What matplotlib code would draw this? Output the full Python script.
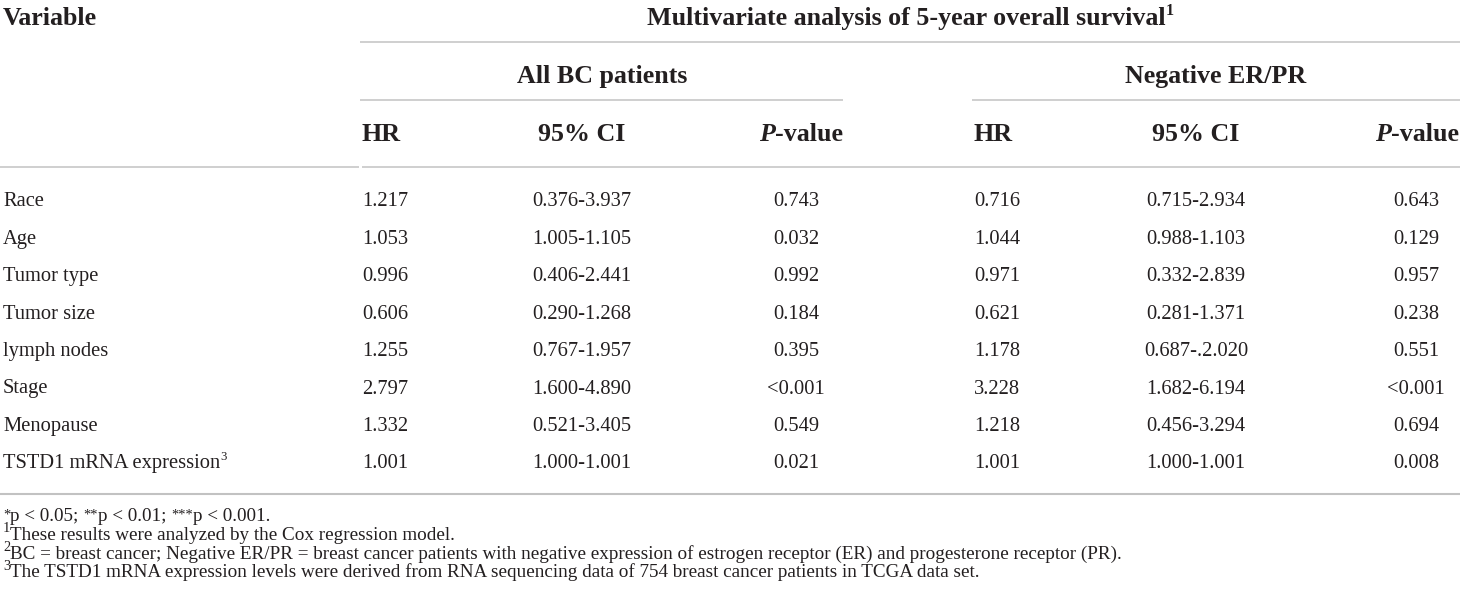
import matplotlib
matplotlib.use("Agg")
import matplotlib.pyplot as plt

# ---------------- data ----------------
variables = ["Race", "Age", "Tumor type", "Tumor size", "lymph nodes",
             "Stage", "Menopause", "TSTD1 mRNA expression"]
variable_sup = ["", "", "", "", "", "", "", "3"]
all_hr = ["1.217", "1.053", "0.996", "0.606", "1.255", "2.797", "1.332", "1.001"]
all_ci = ["0.376-3.937", "1.005-1.105", "0.406-2.441", "0.290-1.268",
          "0.767-1.957", "1.600-4.890", "0.521-3.405", "1.000-1.001"]
all_p = ["0.743", "0.032", "0.992", "0.184", "0.395", "<0.001", "0.549", "0.021"]
neg_hr = ["0.716", "1.044", "0.971", "0.621", "1.178", "3.228", "1.218", "1.001"]
neg_ci = ["0.715-2.934", "0.988-1.103", "0.332-2.839", "0.281-1.371",
          "0.687-.2.020", "1.682-6.194", "0.456-3.294", "1.000-1.001"]
neg_p = ["0.643", "0.129", "0.957", "0.238", "0.551", "<0.001", "0.694", "0.008"]

title = "Multivariate analysis of 5-year overall survival"
group_labels = ["All BC patients", "Negative ER/PR"]
col_headers = ["HR", "95% CI", "-value"]
# (text, rise) ; rise 0 = normal text, >0 = raised small text
footnotes = [
    [("*", 0.12), ("p < 0.05; ", 0), ("**", 0.12), ("p < 0.01; ", 0),
     ("***", 0.12), ("p < 0.001.", 0)],
    [("1", 0.40), ("These results were analyzed by the Cox regression model.", 0)],
    [("2", 0.40), ("BC = breast cancer; Negative ER/PR = breast cancer patients with negative "
                   "expression of estrogen receptor (ER) and progesterone receptor (PR).", 0)],
    [("3", 0.40), ("The TSTD1 mRNA expression levels were derived from RNA sequencing data of "
                   "754 breast cancer patients in TCGA data set.", 0)],
]

# ---------------- layout ----------------
W, H = 1460, 606
FONT = ["Liberation Serif", "DejaVu Serif"]
TXT = "#231f20"
LINE = "#c2c2c2"
BODY = 14.8
HEAD = 18.7
FOOT = 13.8

fig = plt.figure(figsize=(W / 100, H / 100), dpi=100)
ax = fig.add_axes([0, 0, 1, 1])
ax.set_xlim(0, W)
ax.set_ylim(H, 0)
ax.axis("off")
renderer = fig.canvas.get_renderer()


def runs(x, y, parts, ha="left", sup_scale=0.62):
    """parts: list of (text, size, weight, style, rise) ; rise in em (0 = normal)"""
    items = []
    total = 0.0
    for s, size, weight, style, rise in parts:
        fs = size * sup_scale if rise else size
        t = ax.text(0, 0, s, fontsize=fs, fontweight=weight, fontstyle=style,
                    family=FONT, color=TXT, va="baseline", ha="left")
        w = t.get_window_extent(renderer).width
        items.append((t, w, rise, size))
        total += w
    if ha == "left":
        cx = x
    elif ha == "center":
        cx = x - total / 2
    else:
        cx = x - total
    for t, w, rise, size in items:
        dy = -size * 100 / 72 * rise
        t.set_position((cx, y + dy))
        cx += w


def hline(x0, x1, y, lw=1.1):
    ax.plot([x0, x1], [y, y], color=LINE, lw=lw, solid_capstyle="butt")


# header lines
hline(360, W, 42)
hline(360, 843, 100)
hline(972, W, 100)
hline(0, 359, 167)
hline(362, W, 167)
hline(0, W, 494, lw=1.5)

# header texts
runs(3, 25, [("Variable", HEAD, "bold", "normal", 0)])
runs(910, 25, [(title, HEAD, "bold", "normal", 0),
               ("1", HEAD, "bold", "normal", 0.40)], ha="center")
runs(602, 83, [(group_labels[0], HEAD, "bold", "normal", 0)], ha="center")
runs(1216, 83, [(group_labels[1], HEAD, "bold", "normal", 0)], ha="center")

col_hr = [362, 974]
col_ci = [582, 1196]
col_p = [801, 1417]
for g in range(2):
    runs(col_hr[g], 141, [(col_headers[0], HEAD, "bold", "normal", 0)])
    runs(col_ci[g], 141, [(col_headers[1], HEAD, "bold", "normal", 0)], ha="center")
    runs(col_p[g], 141, [("P", HEAD, "bold", "italic", 0),
                         (col_headers[2], HEAD, "bold", "normal", 0)], ha="center")

# body rows
row_y0 = 206.5
row_dy = 37.4
val_p = [796, 1416]
for i, name in enumerate(variables):
    y = row_y0 + i * row_dy
    parts = [(name, BODY, "normal", "normal", 0)]
    if variable_sup[i]:
        parts.append((variable_sup[i], BODY, "normal", "normal", 0.40))
    runs(3, y, parts)
    for g, (hr, ci, p) in enumerate([(all_hr, all_ci, all_p), (neg_hr, neg_ci, neg_p)]):
        runs(col_hr[g], y, [(hr[i], BODY, "normal", "normal", 0)])
        runs(col_ci[g], y, [(ci[i], BODY, "normal", "normal", 0)], ha="center")
        runs(val_p[g], y, [(p[i], BODY, "normal", "normal", 0)], ha="center")

# footnotes
fn_y0 = 521
fn_dy = 18.8
for k, fn in enumerate(footnotes):
    parts = [(s, FOOT, "normal", "normal", rise) for s, rise in fn]
    runs(3, fn_y0 + k * fn_dy, parts, sup_scale=0.75)

fig.savefig("out.png", dpi=100, facecolor="white")
